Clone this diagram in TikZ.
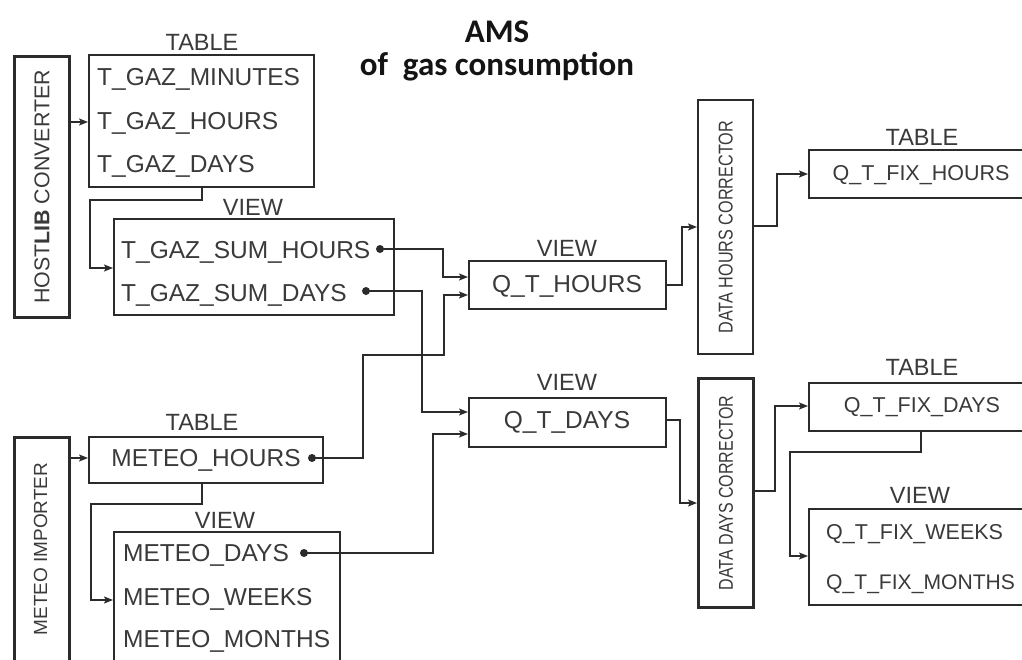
\documentclass[tikz,border=0pt]{standalone}
\usepackage{fontspec}
\setmainfont{Liberation Sans}
\newfontfamily\titlefont{Carlito}
\usetikzlibrary{arrows.meta}
\definecolor{ln}{HTML}{2B2B2B}
\definecolor{tx}{HTML}{3A3A3A}
\begin{document}
\begin{tikzpicture}[x=1pt,y=-1pt,
  box/.style={draw=ln,line width=1.5pt,inner sep=0pt,anchor=north west},
  convbox/.style={draw=ln,line width=3pt,inner sep=0pt,anchor=north west},
  txt/.style={text=tx,inner sep=0pt,text height=17.5pt,text depth=0pt,font=\fontsize{24.5}{28}\selectfont},
  rtxt/.style={txt,text height=15.5pt,font=\fontsize{21.5}{26}\selectfont},
  row/.style={txt,anchor=west},
  rrow/.style={rtxt,anchor=west},
  hdr/.style={txt,font=\fontsize{23.5}{28}\selectfont},
  rot/.style={text=tx,inner sep=0pt,rotate=90},
  dotn/.style={circle,fill=ln,inner sep=0pt,minimum size=8pt},
  conn/.style={draw=ln,line width=1.3pt,-{Stealth[length=9pt,width=7pt,inset=2pt]}},
  ttl/.style={font=\titlefont\bfseries\fontsize{33}{37}\selectfont,text=black!92,inner sep=0pt}
]
\useasboundingbox (0,0) rectangle (1022,659);
\fill[white] (0,0) rectangle (1022,659);

% title
\node[ttl] (t1) at (497,32) {AMS};
\node[ttl] (t2) at (497,67) {of~ gas consumption};

% converters
\node[convbox,minimum width=55pt,minimum height=261pt] (hc) at (13,55) {};
\node[rot,font=\fontsize{21.4}{24}\selectfont] (hcl) at (hc.center) {HOST\textbf{LIB} CONVERTER};
\node[convbox,minimum width=55pt,minimum height=228pt] (mi) at (13,436) {};
\node[rot,font=\fontsize{19}{22}\selectfont] (mil) at (40.5,549) {METEO IMPORTER};
\node[convbox,minimum width=55pt,minimum height=254pt,line width=2.4pt] (dhc) at (697,99) {};
\node[rot,font=\fontsize{20}{22}\selectfont] (dhcl) at (dhc.center) {\scalebox{0.81}[1]{DATA HOURS CORRECTOR}};
\node[convbox,minimum width=55pt,minimum height=229pt] (ddc) at (697,377) {};
\node[rot,font=\fontsize{20}{22}\selectfont] (ddcl) at (ddc.center) {\scalebox{0.8}[1]{DATA DAYS CORRECTOR}};

% T_GAZ table
\node[hdr] (h1) at (202,42) {TABLE};
\node[box,minimum width=225pt,minimum height=132pt] (tg) at (88,54) {};
\node[row] (tgm) at (97,77) {T\_GAZ\_MINUTES};
\node[row] (tgh) at (97,121) {T\_GAZ\_HOURS};
\node[row] (tgd) at (97,164) {T\_GAZ\_DAYS};

% T_GAZ view
\node[hdr] (h2) at (253,207) {VIEW};
\node[box,minimum width=280pt,minimum height=96pt] (tv) at (113,218) {};
\node[row] (tvh) at (121,250) {T\_GAZ\_SUM\_HOURS};
\node[row] (tvd) at (121,293) {T\_GAZ\_SUM\_DAYS};
\node[dotn] (dh) at (380,249) {};
\node[dotn] (dd) at (366,291) {};

% Q_T_HOURS
\node[hdr] (h3) at (567,248) {VIEW};
\node[box,minimum width=197pt,minimum height=48pt] (qh) at (468,260) {};
\node[txt] (qht) at (567,284) {Q\_T\_HOURS};

% Q_T_DAYS
\node[hdr] (h4) at (567,382) {VIEW};
\node[box,minimum width=197pt,minimum height=49pt] (qd) at (468,397) {};
\node[txt] (qdt) at (567,420) {Q\_T\_DAYS};

% Q_T_FIX_HOURS
\node[hdr] (h5) at (922,137) {TABLE};
\node[box,minimum width=222pt,minimum height=48pt] (fh) at (808,149) {};
\node[rtxt] (fht) at (921,173) {Q\_T\_FIX\_HOURS};

% Q_T_FIX_DAYS
\node[hdr] (h6) at (922,367) {TABLE};
\node[box,minimum width=222pt,minimum height=48pt] (fd) at (808,382) {};
\node[rtxt] (fdt) at (922,405) {Q\_T\_FIX\_DAYS};

% Q_T_FIX view
\node[hdr] (h7) at (920,495) {VIEW};
\node[box,minimum width=222pt,minimum height=96pt] (fv) at (808,508) {};
\node[rrow] (fvw) at (826,532) {Q\_T\_FIX\_WEEKS};
\node[rrow,font=\fontsize{21.1}{26}\selectfont] (fvm) at (826,582) {Q\_T\_FIX\_MONTHS};

% METEO table
\node[hdr] (h8) at (202,422) {TABLE};
\node[box,minimum width=234pt,minimum height=46pt] (mh) at (88,436) {};
\node[txt] (mht) at (206,458) {METEO\_HOURS};
\node[dotn] (mhd) at (312,458) {};

% METEO view
\node[hdr] (h9) at (225,520) {VIEW};
\node[box,minimum width=226pt,minimum height=150pt] (mv) at (113,531) {};
\node[row] (mvd) at (123,553) {METEO\_DAYS};
\node[row] (mvw) at (123,597) {METEO\_WEEKS};
\node[row] (mvm) at (123,639) {METEO\_MONTHS};
\node[dotn] (mdd) at (304,553) {};

% entry coordinates on box edges
\coordinate (tgin) at (88,122);
\coordinate (tvin) at (113,268);
\coordinate (qhin1) at (468,277);
\coordinate (qhin2) at (468,295);
\coordinate (qdin1) at (468,412);
\coordinate (qdin2) at (468,434);
\coordinate (qhout) at (665,285);
\coordinate (qdout) at (665,420);
\coordinate (dhcin) at (697,227);
\coordinate (dhcout) at (752,226);
\coordinate (ddcin) at (697,503);
\coordinate (ddcout) at (752,491);
\coordinate (fhin) at (808,174);
\coordinate (fdin) at (808,406);
\coordinate (fvin) at (808,556);
\coordinate (mhin) at (88,458);
\coordinate (mvin) at (113,600);
\coordinate (fdbot) at (921,430);
\coordinate (tgbot) at (202,186);
\coordinate (mhbot) at (202,482);

% connectors
\draw[conn] (hc.east |- tgin) -- (tgin);
\draw[conn] (mi.east |- mhin) -- (mhin);
\draw[conn,line width=2pt] (tgbot) -- ++(0,14) -| (90,268) -- (tvin);
\draw[conn,line width=2pt] (mhbot) -- ++(0,22) -| (91,600) -- (mvin);
\draw[conn] (dh.center) -| (443,277) -- (qhin1);
\draw[conn] (dd.center) -| (422,412) -- (qdin1);
\draw[conn,line width=1.8pt] (mhd.center) -| (363,355) -| (444,295) -- (qhin2);
\draw[conn] (mdd.center) -| (433,434) -- (qdin2);
\draw[conn] (qhout) -| (682,227) -- (dhcin);
\draw[conn] (qdout) -| (680,503) -- (ddcin);
\draw[conn,line width=1.8pt] (dhcout) -| (777,174) -- (fhin);
\draw[conn] (ddcout) -| (775,406) -- (fdin);
\draw[conn] (fdbot) |- (790,452) |- (fvin);
\end{tikzpicture}
\end{document}
